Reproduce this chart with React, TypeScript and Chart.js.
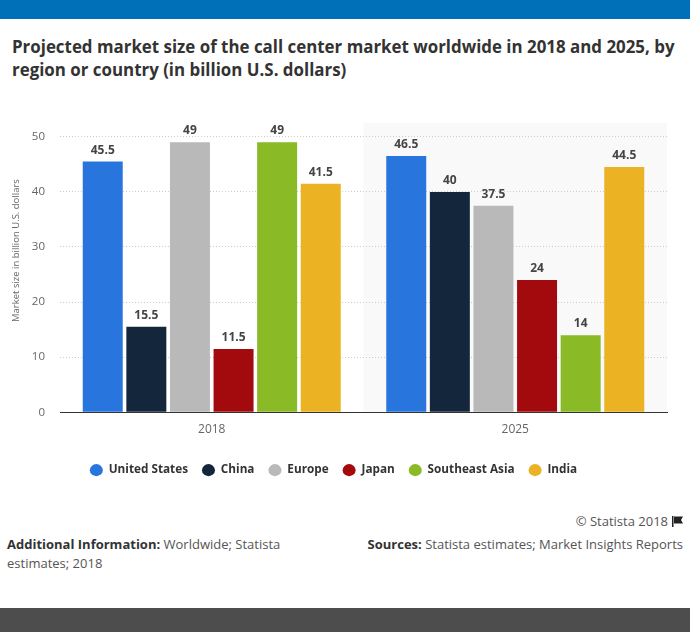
import React, { useEffect, useRef } from "react";
import { Chart, registerables } from "chart.js";

Chart.register(...registerables);

const categories = ["2018", "2025"];
const seriesNames = ["United States", "China", "Europe", "Japan", "Southeast Asia", "India"];
const unitedStates = [45.5, 46.5];
const china = [15.5, 40];
const europe = [49, 37.5];
const japan = [11.5, 24];
const southeastAsia = [49, 14];
const india = [41.5, 44.5];
const seriesColors = ["#2876dd", "#13263c", "#b9b9b9", "#a30a0e", "#8aba25", "#ebb324"];
const yTicks = [0, 10, 20, 30, 40, 50];
const yAxisMax = 58.7;
const bandTopValue = 52.5;

const FONT = "'Open Sans', 'Noto Sans', sans-serif";

const bandPlugin = {
  id: "bandPlugin",
  beforeDraw(chart: any) {
    const { ctx, scales } = chart;
    const x = scales.x;
    const y = scales.y;
    const step = (x.right - x.left) / categories.length;
    const left = x.left + step;
    const top = y.getPixelForValue(bandTopValue);
    const bottom = y.getPixelForValue(0);
    ctx.save();
    ctx.fillStyle = "#f9f9f9";
    ctx.fillRect(left, top, x.right - left, bottom - top);
    ctx.restore();
  },
};

const labelPlugin = {
  id: "labelPlugin",
  afterDatasetsDraw(chart: any) {
    const { ctx } = chart;
    ctx.save();
    ctx.font = `bold 12px ${FONT}`;
    ctx.fillStyle = "#444444";
    ctx.textAlign = "center";
    ctx.textBaseline = "alphabetic";
    chart.data.datasets.forEach((ds: any, di: number) => {
      const meta = chart.getDatasetMeta(di);
      meta.data.forEach((el: any, i: number) => {
        ctx.fillText(String(ds.data[i]), el.x, el.y - 8);
      });
    });
    ctx.restore();
  },
};

function ChartCanvas() {
  const ref = useRef<HTMLCanvasElement | null>(null);
  useEffect(() => {
    if (!ref.current) return;
    const seriesData = [unitedStates, china, europe, japan, southeastAsia, india];
    const chart = new Chart(ref.current, {
      type: "bar",
      data: {
        labels: categories,
        datasets: seriesNames.map((name, i) => ({
          label: name,
          data: seriesData[i],
          backgroundColor: seriesColors[i],
          borderWidth: 0,
          categoryPercentage: 0.862,
          barPercentage: 0.917,
        })),
      },
      options: {
        animation: false,
        responsive: false,
        maintainAspectRatio: false,
        layout: { padding: { top: 0, right: 23, bottom: 0, left: 0 } },
        scales: {
          x: {
            grid: { display: false, drawTicks: false },
            border: { display: true, color: "#333333", width: 1 },
            ticks: { color: "#666666", font: { size: 12, family: FONT }, padding: 10 },
            afterFit: (s: any) => {
              s.height = 38;
            },
          },
          y: {
            min: 0,
            max: yAxisMax,
            afterBuildTicks: (s: any) => {
              s.ticks = yTicks.map((v) => ({ value: v }));
            },
            afterFit: (s: any) => {
              s.width = 60;
            },
            grid: { color: "#cccccc", drawTicks: false, lineWidth: 1 },
            border: { display: false, dash: [1, 2] },
            ticks: { color: "#666666", font: { size: 11.5, family: FONT }, padding: 15 },
            title: {
              display: true,
              text: "Market size in billion U.S. dollars",
              color: "#666666",
              font: { size: 9.5, family: FONT },
              padding: { top: 11, bottom: 0 },
            },
          },
        },
        plugins: {
          legend: {
            position: "bottom",
            labels: {
              usePointStyle: true,
              pointStyle: "circle",
              pointStyleWidth: 13,
              boxHeight: 8.5,
              color: "#333333",
              font: { size: 11.75, weight: "bold", family: FONT },
              padding: 14,
            },
          },
          tooltip: { enabled: false },
        },
      },
      plugins: [bandPlugin, labelPlugin],
    } as any);
    return () => chart.destroy();
  }, []);
  return <canvas ref={ref} width={690} height={419} style={{ position: "absolute", left: 0, top: 67, width: 690, height: 419 }} />;
}

export default function App() {
  return (
    <div style={{ position: "absolute", left: 0, top: 0, width: 690, height: 632, background: "#ffffff", fontFamily: FONT, overflow: "hidden" }}>
      <div style={{ position: "absolute", left: 0, top: 0, width: 690, height: 19, background: "#0071b9" }} />
      <div style={{ position: "absolute", left: 12, top: 35, fontSize: 16.9, fontWeight: 700, color: "#333333", lineHeight: "23px", whiteSpace: "nowrap" }}>
        Projected market size of the call center market worldwide in 2018 and 2025, by
        <br />
        region or country (in billion U.S. dollars)
      </div>
      <ChartCanvas />
      <div style={{ position: "absolute", right: 7, top: 512, fontSize: 13, color: "#555555", lineHeight: "19px", whiteSpace: "nowrap", display: "flex", alignItems: "center" }}>
        © Statista 2018
        <svg width="11" height="11" viewBox="0 0 11 11" style={{ marginLeft: 4 }}>
          <rect x="0" y="0" width="1.5" height="11" fill="#222" />
          <path d="M2 0.5 H11 L9 4 L11 7.5 H2 Z" fill="#222" />
        </svg>
      </div>
      <div style={{ position: "absolute", left: 7, top: 535, fontSize: 13, color: "#555555", lineHeight: "19px", whiteSpace: "nowrap" }}>
        <b style={{ color: "#333333" }}>Additional Information:</b> Worldwide; Statista
        <br />
        estimates; 2018
      </div>
      <div style={{ position: "absolute", right: 7, top: 535, fontSize: 13, color: "#555555", lineHeight: "19px", whiteSpace: "nowrap" }}>
        <b style={{ color: "#333333" }}>Sources:</b> Statista estimates; Market Insights Reports
      </div>
      <div style={{ position: "absolute", left: 0, top: 608, width: 690, height: 24, background: "#4d4d4d" }} />
    </div>
  );
}
